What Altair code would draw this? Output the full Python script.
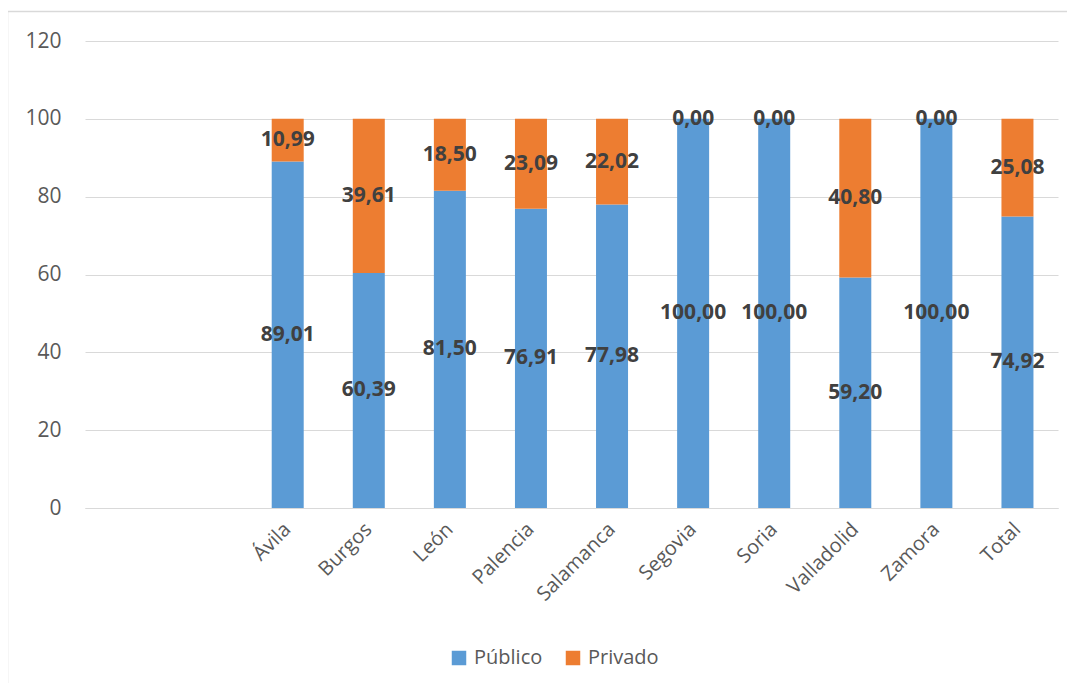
import altair as alt
import pandas as pd

# ---- data ----
categories = [" ", "  ", "Ávila", "Burgos", "León", "Palencia", "Salamanca",
              "Segovia", "Soria", "Valladolid", "Zamora", "Total"]
provinces = ["Ávila", "Burgos", "León", "Palencia", "Salamanca",
             "Segovia", "Soria", "Valladolid", "Zamora", "Total"]
publico = [89.01, 60.39, 81.50, 76.91, 77.98, 100.00, 100.00, 59.20, 100.00, 74.92]
privado = [10.99, 39.61, 18.50, 23.09, 22.02, 0.00, 0.00, 40.80, 0.00, 25.08]
series = ["Público", "Privado"]
colors = ["#5B9BD5", "#ED7D31"]
y_ticks = [0, 20, 40, 60, 80, 100, 120]

rows = []
for i, p in enumerate(provinces):
    for k, (s, vals) in enumerate(zip(series, [publico, privado])):
        v = vals[i]
        rows.append({"cat": p, "serie": s, "ord": k, "val": v,
                     "lab": f"{v:.2f}".replace(".", ",")})
df = pd.DataFrame(rows)

FONT = "Open Sans"
GRAY = "#595959"

x_enc = alt.X("cat:N", scale=alt.Scale(domain=categories, paddingInner=0, paddingOuter=0),
              axis=alt.Axis(title=None, labelAngle=-45, labelAlign="right", labelBaseline="middle",
                            labelFontSize=20, labelColor=GRAY, labelFont=FONT, labelPadding=18,
                            ticks=False, domainColor="#d9d9d9", labelOverlap=False, grid=False))

base = alt.Chart(df).transform_stack(
    stack="val", as_=["y0", "y1"], groupby=["cat"], sort=[alt.SortField("ord", order="ascending")]
).transform_calculate(mid="(datum.y0 + datum.y1) / 2")

bars = base.mark_bar(size=32).encode(
    x=x_enc,
    y=alt.Y("y0:Q", scale=alt.Scale(domain=[0, 120], nice=False),
            axis=alt.Axis(title=None, values=y_ticks, labelFontSize=21, labelColor=GRAY,
                          labelFont=FONT, labelPadding=24, domain=False, ticks=False,
                          gridColor="#d9d9d9")),
    y2="y1:Q",
    color=alt.Color("serie:N", scale=alt.Scale(domain=series, range=colors),
                    legend=alt.Legend(title=None, orient="none", direction="horizontal",
                                      legendX=364, legendY=607, symbolType="square",
                                      symbolSize=210, symbolStrokeWidth=0, labelFontSize=20,
                                      labelColor=GRAY, labelFont=FONT, columnPadding=20,
                                      labelOffset=5)),
    order=alt.Order("ord:Q"),
)

labels = base.mark_text(font=FONT, fontSize=21, fontWeight="bold", color="#404040").encode(
    x=alt.X("cat:N", scale=alt.Scale(domain=categories, paddingInner=0, paddingOuter=0)),
    y=alt.Y("mid:Q"),
    text="lab:N",
)

frame = alt.Chart(alt.Data(values=[{"a": 1}])).mark_rect(
    fill=None, stroke="#d9d9d9", strokeWidth=1.5, clip=False
).encode(x=alt.value(-77.5), x2=alt.value(1100), y=alt.value(-29.5), y2=alt.value(700))

chart = alt.layer(frame, bars, labels).properties(
    width=973, height=467,
    background="white",
    autosize=alt.AutoSizeParams(type="none"),
    padding={"left": 77, "top": 33, "right": 9, "bottom": 175},
).configure_view(strokeWidth=0, stroke="transparent")

chart.save("out.html", embed_options={"renderer": "svg", "actions": False})
